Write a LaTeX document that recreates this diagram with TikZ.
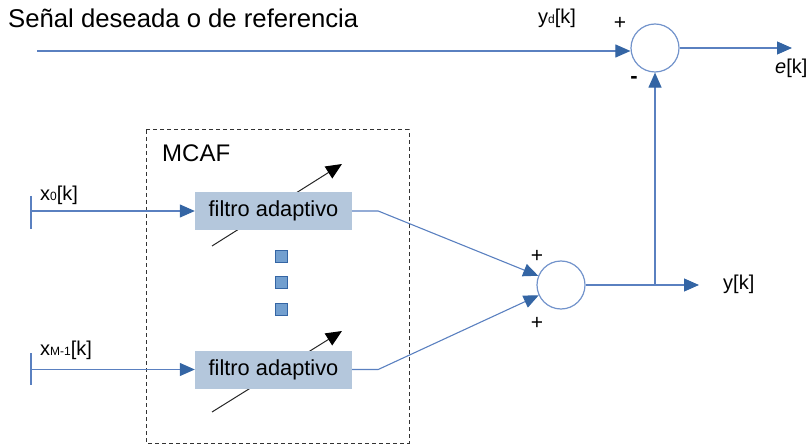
\documentclass[tikz,border=0pt]{standalone}
\usepackage{fontspec}
\setmainfont{Liberation Sans}
\usepackage{tikz}
\usetikzlibrary{arrows.meta,positioning}
\definecolor{lineblue}{HTML}{5A80C0}
\definecolor{tipblue}{HTML}{3465A4}
\definecolor{circblue}{HTML}{7293CB}
\definecolor{boxblue}{HTML}{B4C7DC}
\definecolor{dotblue}{HTML}{729FCF}
\newcommand{\sm}[1]{{\fontsize{12}{12}\selectfont #1}}

\begin{document}
\begin{tikzpicture}[x=1pt,y=-1pt,>={Triangle[length=15pt,width=13pt,color=tipblue]},
sig/.style={draw=lineblue,line width=1.1pt},
filt/.style={fill=boxblue,minimum width=157pt,minimum height=38pt,inner sep=0pt,font=\fontsize{21.8}{21.8}\selectfont},
sumnode/.style={circle,draw=circblue,line width=1.2pt,minimum size=48pt,inner sep=0pt},
lbl/.style={font=\fontsize{20}{20}\selectfont,inner sep=0pt},
sgn/.style={font=\fontsize{21}{21}\selectfont,inner sep=0pt},
dot/.style={fill=dotblue,draw=tipblue,line width=0.6pt,minimum size=12pt,inner sep=0pt},
adj/.style={draw=black!85,line width=1pt,-{Triangle[length=16pt,width=14pt,color=black]}}]
\useasboundingbox (0,0) rectangle (810,446);

\node[anchor=west,inner sep=0pt,font=\fontsize{25.7}{25.7}\selectfont] (title) at (8,18) {Señal deseada o de referencia};

\draw[dashed,dash pattern=on 4pt off 3pt,draw=black!80,line width=1pt] (146,130) rectangle (409,443);
\node[anchor=west,inner sep=0pt,font=\fontsize{24}{24}\selectfont] (mcaf) at (162,153) {MCAF};

\coordinate (adj0a) at (212,246);
\coordinate (adj0b) at (342,164);
\coordinate (adj1a) at (212,412);
\coordinate (adj1b) at (342,331);
\draw[adj] (adj0a) -- (adj0b);
\draw[adj] (adj1a) -- (adj1b);

\node[filt] (f0) at (273.5,211) {filtro adaptivo};
\node[filt] (f1) at (273.5,369.5) {filtro adaptivo};

\node[dot] (d0) at (281,256) {};
\node[dot] (d1) at (281,282.5) {};
\node[dot] (d2) at (281,309) {};

\node[sumnode] (sumE) at (655,48) {};
\node[sumnode] (sumY) at (561,285) {};

\coordinate (in0) at (31,211);
\coordinate (in1) at (31,369.5);
\coordinate (ref) at (37,51);
\coordinate (jn) at (655,285);
\coordinate (yout) at (699,285);
\coordinate (eout) at (792,48);

\draw[sig] (31,196) -- (31,229);
\draw[sig] (31,353) -- (31,385);
\draw[sig,->] (in0) -- (f0.west);
\draw[sig,->] (in1) -- (f1.west);
\draw[sig,->] (f0.east) -- ++(26,0) -- (sumY);
\draw[sig,->] (f1.east) -- ++(26,0) -- (sumY);
\draw[sig,->] (sumY.east) -- (yout);
\draw[sig,->] (jn) -- (sumE.south);
\draw[sig,->] (ref) -- (ref -| sumE.west);
\draw[sig,->] (sumE.east) -- (eout);

\node[lbl,anchor=west] (x0lbl) at (40,195) {x\sm{0}[k]};
\node[lbl,anchor=west] (x1lbl) at (40,350) {x\sm{M-1}[k]};
\node[lbl,anchor=west] (ylbl) at (723,284) {y[k]};
\node[lbl,anchor=west] (ydlbl) at (538,18) {y\sm{d}[k]};
\node[lbl,anchor=west] (elbl) at (775,68) {\textit{e}[k]};

\node[sgn] (pE) at (620,23) {+};
\node[sgn,font=\fontsize{22}{22}\selectfont\bfseries] (mE) at (634,80) {-};
\node[sgn] (pY0) at (537,256) {+};
\node[sgn] (pY1) at (537,323) {+};
\end{tikzpicture}
\end{document}
